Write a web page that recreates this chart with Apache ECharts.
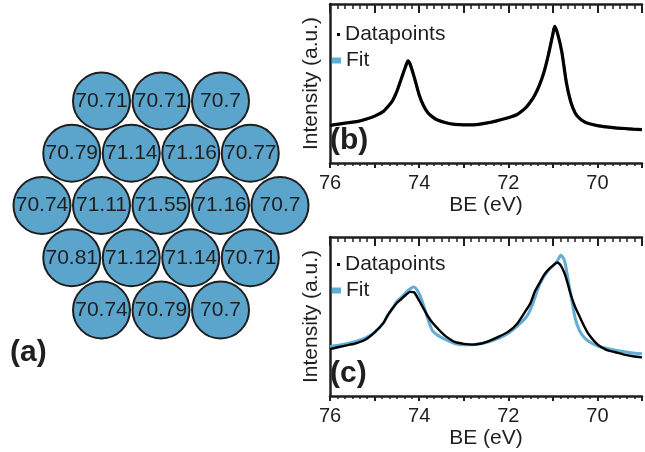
<!DOCTYPE html>
<html>
<head>
<meta charset="utf-8">
<script src="https://cdn.jsdelivr.net/npm/echarts@6/dist/echarts.min.js"></script>
<style>
  html, body { margin: 0; padding: 0; background: #fff; }
  #chart { width: 645px; height: 452px; }
</style>
</head>
<body>
<div id="chart"></div>
<script>
// Peak binding energies (eV) on the hexagonal sampling map, row by row
const hexRows = [
  [70.71, 70.71, 70.7],
  [70.79, 71.14, 71.16, 70.77],
  [70.74, 71.11, 71.55, 71.16, 70.7],
  [70.81, 71.12, 71.14, 70.71],
  [70.74, 70.79, 70.7]
];

// Spectrum (b): binding energy grid, measured intensity and fit (a.u.)
const beB = [76.0, 75.8, 75.6, 75.4, 75.2, 75.0, 74.8, 74.7, 74.6, 74.5, 74.4, 74.3, 74.25, 74.2, 74.1, 74.0, 73.9, 73.8, 73.7, 73.6, 73.4, 73.2, 73.0, 72.8, 72.6, 72.4, 72.2, 72.0, 71.8, 71.7, 71.6, 71.5, 71.4, 71.3, 71.2, 71.1, 71.0, 70.96, 70.9, 70.8, 70.7, 70.6, 70.5, 70.4, 70.3, 70.2, 70.0, 69.8, 69.6, 69.4, 69.2, 69.0];
const dataB = [23.6, 24.5, 25.3, 26.0, 27.5, 29.5, 32.5, 35.5, 39.0, 45.0, 53.0, 61.0, 64.2, 62.0, 53.0, 43.0, 36.0, 31.5, 29.0, 27.2, 25.3, 24.3, 24.0, 24.0, 24.6, 25.6, 27.0, 28.5, 30.5, 32.5, 35.0, 38.5, 43.0, 49.0, 57.0, 68.0, 81.0, 86.0, 82.0, 70.0, 51.0, 38.5, 31.5, 28.0, 26.0, 24.8, 23.5, 22.7, 22.1, 21.7, 21.3, 21.0];
const fitB  = [23.8, 24.6, 25.3, 26.1, 27.4, 29.4, 32.6, 35.4, 39.2, 45.0, 53.2, 61.0, 64.0, 61.8, 52.6, 42.6, 35.6, 31.2, 28.8, 27.1, 25.3, 24.4, 24.1, 24.1, 24.6, 25.5, 26.9, 28.4, 30.6, 32.6, 35.2, 38.8, 43.4, 49.6, 57.6, 68.6, 81.4, 86.0, 82.4, 70.6, 52.0, 39.2, 31.8, 28.0, 26.0, 24.8, 23.4, 22.6, 22.0, 21.6, 21.2, 20.9];

// Spectrum (c): binding energy grid, measured intensity and fit (a.u.)
const beC = [76.0, 75.8, 75.6, 75.4, 75.2, 75.0, 74.8, 74.7, 74.6, 74.5, 74.4, 74.3, 74.2, 74.12, 74.0, 73.9, 73.8, 73.7, 73.6, 73.5, 73.4, 73.2, 73.0, 72.8, 72.6, 72.4, 72.2, 72.0, 71.8, 71.6, 71.5, 71.4, 71.3, 71.2, 71.1, 71.0, 70.9, 70.82, 70.75, 70.7, 70.6, 70.5, 70.4, 70.3, 70.2, 70.0, 69.8, 69.6, 69.4, 69.2, 69.0];
const dataC = [29.5, 30.8, 32.0, 33.3, 35.5, 40.0, 46.0, 51.0, 55.0, 58.5, 61.0, 63.5, 65.5, 65.3, 60.0, 55.0, 50.0, 46.0, 43.0, 40.0, 37.5, 34.0, 32.8, 32.3, 33.0, 35.0, 37.5, 40.5, 45.5, 54.0, 58.5, 66.0, 71.0, 76.0, 79.5, 82.0, 84.0, 82.0, 78.0, 74.0, 64.0, 56.0, 50.0, 44.0, 39.0, 32.5, 29.0, 27.5, 26.0, 25.0, 24.3];
const fitC  = [31.0, 32.0, 33.0, 34.4, 36.5, 40.0, 46.0, 51.0, 55.0, 59.5, 62.0, 65.0, 67.5, 68.6, 64.5, 57.0, 48.0, 41.0, 38.5, 36.8, 35.4, 33.0, 32.3, 32.3, 33.0, 34.4, 36.5, 39.5, 44.0, 49.5, 54.5, 62.0, 70.0, 75.0, 79.0, 81.8, 85.0, 88.5, 86.0, 80.0, 64.0, 49.0, 41.0, 37.0, 34.5, 31.5, 30.0, 28.8, 27.8, 27.0, 26.5];

const FONT = '"Liberation Sans", Arial, sans-serif';
const INK = '#1f1f1f';
const CIRCLE = '#5ba5cc';
const FIT = '#62acd6';

// Hex map: each row is centred, so shorter rows shift by half a pitch
const hexPoints = [];
hexRows.forEach((row, r) => {
  const offset = (5 - row.length) / 2;
  row.forEach((v, j) => hexPoints.push([j + offset, r, v]));
});

const pairs = (xs, ys) => xs.map((x, i) => [x, ys[i]]);

function bottomAxis(gridIndex) {
  return {
    gridIndex, type: 'value', position: 'bottom',
    min: 69, max: 76, interval: 1, inverse: true,
    axisLine: { show: true, onZero: false, lineStyle: { color: INK, width: 2.5 } },
    axisTick: { show: true, inside: false, length: 5, lineStyle: { color: INK, width: 2 } },
    minorTick: { show: true, splitNumber: 6, length: 3, lineStyle: { color: INK, width: 1.5 } },
    axisLabel: {
      fontFamily: FONT, fontSize: 20, color: INK, margin: 10,
      formatter: v => (Math.round(v) % 2 === 0 ? String(Math.round(v)) : '')
    },
    splitLine: { show: false },
    name: 'BE (eV)', nameLocation: 'middle', nameGap: 32,
    nameTextStyle: { fontFamily: FONT, fontSize: 21, color: INK }
  };
}

function topAxis(gridIndex) {
  return {
    gridIndex, type: 'value', position: 'top',
    min: 69, max: 76, interval: 1, inverse: true,
    axisLine: { show: true, onZero: false, lineStyle: { color: INK, width: 2.5 } },
    axisTick: { show: true, inside: true, length: 9, lineStyle: { color: INK, width: 2 } },
    minorTick: { show: true, splitNumber: 6, length: 5, lineStyle: { color: INK, width: 1.5 } },
    axisLabel: { show: false },
    splitLine: { show: false }
  };
}

function intensityAxis(gridIndex) {
  return {
    gridIndex, type: 'value', min: 0, max: 100,
    axisLine: { show: true, onZero: false, lineStyle: { color: INK, width: 2.5 } },
    axisTick: { show: false },
    axisLabel: { show: false },
    splitLine: { show: false },
    name: 'Intensity (a.u.)', nameLocation: 'middle', nameGap: 8,
    nameTextStyle: { fontFamily: FONT, fontSize: 21, color: INK }
  };
}

function legends(top) {
  return [
    {
      data: ['Datapoints'], left: 337, top: top, orient: 'vertical',
      icon: 'rect', itemWidth: 3, itemHeight: 3, padding: 0, selectedMode: false,
      textStyle: { fontFamily: FONT, fontSize: 21, color: INK, lineHeight: 20 }
    },
    {
      data: ['Fit'], left: 332, top: top + 26, orient: 'vertical',
      icon: 'rect', itemWidth: 9, itemHeight: 6, padding: 0, selectedMode: false,
      textStyle: { fontFamily: FONT, fontSize: 21, color: INK, lineHeight: 20 }
    }
  ];
}

const option = {
  animation: false,
  backgroundColor: '#fff',
  grid: [
    { left: 42, top: 101, width: 238, height: 209 },
    { left: 330, top: 4, width: 324, height: 159 },
    { left: 330, top: 237, width: 324, height: 159 }
  ],
  xAxis: [
    { gridIndex: 0, type: 'value', min: 0, max: 4, show: false },
    bottomAxis(1), topAxis(1),
    bottomAxis(2), topAxis(2)
  ],
  yAxis: [
    { gridIndex: 0, type: 'value', min: 0, max: 4, inverse: true, show: false },
    intensityAxis(1),
    intensityAxis(2)
  ],
  legend: [].concat(legends(24), legends(254)),
  graphic: [
    { type: 'text', left: 10, top: 338, style: { text: '(a)', font: 'bold 30px ' + FONT, fill: INK } },
    { type: 'text', left: 330, top: 126, style: { text: '(b)', font: 'bold 30px ' + FONT, fill: INK } },
    { type: 'text', left: 330, top: 359, style: { text: '(c)', font: 'bold 30px ' + FONT, fill: INK } }
  ],
  series: [
    {
      type: 'scatter', xAxisIndex: 0, yAxisIndex: 0, clip: false,
      data: hexPoints, symbol: 'circle', symbolSize: 57,
      itemStyle: { color: CIRCLE, borderColor: INK, borderWidth: 2, opacity: 1 },
      label: {
        show: true, position: 'inside',
        formatter: p => String(p.value[2]),
        fontFamily: FONT, fontSize: 21, color: INK
      },
      emphasis: { disabled: true }
    },
    {
      name: 'Fit', type: 'line', xAxisIndex: 1, yAxisIndex: 1,
      data: pairs(beB, fitB), color: FIT, smooth: 0.25, showSymbol: false,
      lineStyle: { color: FIT, width: 2.5 }
    },
    {
      name: 'Datapoints', type: 'line', xAxisIndex: 1, yAxisIndex: 1,
      data: pairs(beB, dataB), color: '#000', smooth: 0.25, showSymbol: false,
      lineStyle: { color: '#000', width: 3.2 }
    },
    {
      name: 'Fit', type: 'line', xAxisIndex: 3, yAxisIndex: 2,
      data: pairs(beC, fitC), color: FIT, smooth: 0.25, showSymbol: false,
      lineStyle: { color: FIT, width: 3 }
    },
    {
      name: 'Datapoints', type: 'line', xAxisIndex: 3, yAxisIndex: 2,
      data: pairs(beC, dataC), color: '#000', smooth: 0.25, showSymbol: false,
      lineStyle: { color: '#000', width: 2.4 }
    }
  ]
};

const chart = echarts.init(document.getElementById('chart'), null, { renderer: 'canvas' });
chart.setOption(option);
</script>
</body>
</html>
